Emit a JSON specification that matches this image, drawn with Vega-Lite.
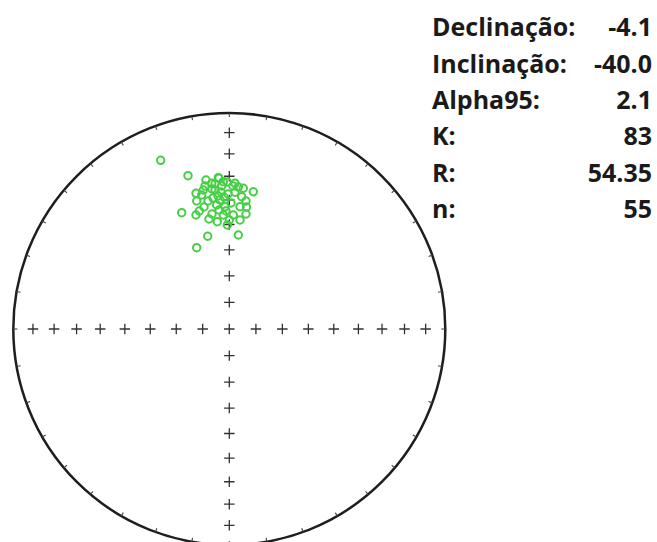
{
  "$schema": "https://vega.github.io/schema/vega-lite/v6.json",
  "width": 657,
  "height": 542,
  "padding": 0,
  "autosize": {"type": "none"},
  "background": "white",
  "usermeta": {"embedOptions": {"actions": false}},
  "config": {"view": {"stroke": null}},
  "datasets": {
    "net": [{"x": 0, "y": 0}],
    "ticks": [
      {"az": 0, "x": 0.0, "y": 1.0}, {"az": 10, "x": 0.17365, "y": 0.98481}, {"az": 20, "x": 0.34202, "y": 0.93969},
      {"az": 30, "x": 0.5, "y": 0.86603}, {"az": 40, "x": 0.64279, "y": 0.76604}, {"az": 50, "x": 0.76604, "y": 0.64279},
      {"az": 60, "x": 0.86603, "y": 0.5}, {"az": 70, "x": 0.93969, "y": 0.34202}, {"az": 80, "x": 0.98481, "y": 0.17365},
      {"az": 90, "x": 1.0, "y": 0.0}, {"az": 100, "x": 0.98481, "y": -0.17365}, {"az": 110, "x": 0.93969, "y": -0.34202},
      {"az": 120, "x": 0.86603, "y": -0.5}, {"az": 130, "x": 0.76604, "y": -0.64279}, {"az": 140, "x": 0.64279, "y": -0.76604},
      {"az": 150, "x": 0.5, "y": -0.86603}, {"az": 160, "x": 0.34202, "y": -0.93969}, {"az": 170, "x": 0.17365, "y": -0.98481},
      {"az": 180, "x": 0.0, "y": -1.0}, {"az": 190, "x": -0.17365, "y": -0.98481}, {"az": 200, "x": -0.34202, "y": -0.93969},
      {"az": 210, "x": -0.5, "y": -0.86603}, {"az": 220, "x": -0.64279, "y": -0.76604}, {"az": 230, "x": -0.76604, "y": -0.64279},
      {"az": 240, "x": -0.86603, "y": -0.5}, {"az": 250, "x": -0.93969, "y": -0.34202}, {"az": 260, "x": -0.98481, "y": -0.17365},
      {"az": 270, "x": -1.0, "y": 0.0}, {"az": 280, "x": -0.98481, "y": 0.17365}, {"az": 290, "x": -0.93969, "y": 0.34202},
      {"az": 300, "x": -0.86603, "y": 0.5}, {"az": 310, "x": -0.76604, "y": 0.64279}, {"az": 320, "x": -0.64279, "y": 0.76604},
      {"az": 330, "x": -0.5, "y": 0.86603}, {"az": 340, "x": -0.34202, "y": 0.93969}, {"az": 350, "x": -0.17365, "y": 0.98481}
    ],
    "crosses": [
      {"x": 0, "y": 0},
      {"x": 0.12326, "y": 0}, {"x": 0.24558, "y": 0}, {"x": 0.36603, "y": 0}, {"x": 0.48369, "y": 0},
      {"x": 0.59767, "y": 0}, {"x": 0.70711, "y": 0}, {"x": 0.81116, "y": 0}, {"x": 0.90904, "y": 0},
      {"x": -0.12326, "y": 0}, {"x": -0.24558, "y": 0}, {"x": -0.36603, "y": 0}, {"x": -0.48369, "y": 0},
      {"x": -0.59767, "y": 0}, {"x": -0.70711, "y": 0}, {"x": -0.81116, "y": 0}, {"x": -0.90904, "y": 0},
      {"x": 0, "y": 0.12326}, {"x": 0, "y": 0.24558}, {"x": 0, "y": 0.36603}, {"x": 0, "y": 0.48369},
      {"x": 0, "y": 0.59767}, {"x": 0, "y": 0.70711}, {"x": 0, "y": 0.81116}, {"x": 0, "y": 0.90904},
      {"x": 0, "y": -0.12326}, {"x": 0, "y": -0.24558}, {"x": 0, "y": -0.36603}, {"x": 0, "y": -0.48369},
      {"x": 0, "y": -0.59767}, {"x": 0, "y": -0.70711}, {"x": 0, "y": -0.81116}, {"x": 0, "y": -0.90904}
    ],
    "dirs": [
      {"x": -0.3176, "y": 0.7810}, {"x": -0.1912, "y": 0.7097}, {"x": -0.1125, "y": 0.6620}, {"x": -0.0815, "y": 0.6745},
      {"x": -0.0477, "y": 0.6977}, {"x": -0.1079, "y": 0.6898}, {"x": -0.0509, "y": 0.7005}, {"x": -0.0278, "y": 0.6819},
      {"x": -0.0352, "y": 0.6620}, {"x": -0.0093, "y": 0.6806}, {"x": 0.0264, "y": 0.6745}, {"x": 0.0417, "y": 0.6574},
      {"x": 0.0648, "y": 0.6514}, {"x": 0.1111, "y": 0.6356}, {"x": -0.1542, "y": 0.6282}, {"x": -0.1278, "y": 0.6204},
      {"x": -0.1204, "y": 0.6435}, {"x": -0.1509, "y": 0.5926}, {"x": -0.0801, "y": 0.6481}, {"x": -0.0662, "y": 0.6435},
      {"x": -0.0431, "y": 0.5972}, {"x": -0.0523, "y": 0.6157}, {"x": -0.0245, "y": 0.6111}, {"x": -0.0583, "y": 0.5741},
      {"x": -0.0199, "y": 0.5662}, {"x": 0.0264, "y": 0.6329}, {"x": 0.0574, "y": 0.6125}, {"x": 0.0773, "y": 0.5926},
      {"x": 0.0495, "y": 0.5662}, {"x": 0.0079, "y": 0.5833}, {"x": 0.0796, "y": 0.5648}, {"x": -0.2204, "y": 0.5384},
      {"x": -0.1542, "y": 0.5278}, {"x": -0.1389, "y": 0.5463}, {"x": -0.1171, "y": 0.5648}, {"x": -0.0940, "y": 0.5093},
      {"x": -0.0801, "y": 0.5324}, {"x": -0.0556, "y": 0.4968}, {"x": -0.0278, "y": 0.5278}, {"x": 0.0, "y": 0.5046},
      {"x": 0.0185, "y": 0.5278}, {"x": 0.0495, "y": 0.5046}, {"x": 0.0773, "y": 0.5324}, {"x": -0.0093, "y": 0.4815},
      {"x": -0.1000, "y": 0.4292}, {"x": 0.0417, "y": 0.4352}, {"x": -0.1509, "y": 0.3764}, {"x": -0.0755, "y": 0.6065},
      {"x": -0.0384, "y": 0.6343}, {"x": -0.0060, "y": 0.6250}, {"x": -0.0986, "y": 0.5926}, {"x": -0.0153, "y": 0.5463},
      {"x": -0.0477, "y": 0.5509}, {"x": 0.0171, "y": 0.6620}, {"x": -0.0662, "y": 0.6713}
    ],
    "stats": [
      {"row": 1, "label": "Declinação:", "value": "-4.1"},
      {"row": 2, "label": "Inclinação:", "value": "-40.0"},
      {"row": 3, "label": "Alpha95:", "value": "2.1"},
      {"row": 4, "label": "K:", "value": "83"},
      {"row": 5, "label": "R:", "value": "54.35"},
      {"row": 6, "label": "n:", "value": "55"}
    ]
  },
  "layer": [
    {
      "layer": [
        {
          "data": {"name": "net"},
          "mark": {"type": "point", "shape": "circle", "filled": false, "size": 186624, "stroke": "#1e1e1e", "strokeWidth": 2.5, "opacity": 1},
          "encoding": {
            "x": {"field": "x", "type": "quantitative", "axis": null, "scale": {"domain": [-1.0616, 1.9801], "nice": false, "zero": false}},
            "y": {"field": "y", "type": "quantitative", "axis": null, "scale": {"domain": [-0.9861, 1.5231], "nice": false, "zero": false}}
          }
        },
        {
          "data": {"name": "ticks"},
          "mark": {"type": "point", "shape": "M0,0L0,1", "filled": false, "size": 64, "stroke": "#444444", "strokeWidth": 1.1, "opacity": 1},
          "encoding": {
            "x": {"field": "x", "type": "quantitative", "axis": null, "scale": {"domain": [-1.0616, 1.9801], "nice": false, "zero": false}},
            "y": {"field": "y", "type": "quantitative", "axis": null, "scale": {"domain": [-0.9861, 1.5231], "nice": false, "zero": false}},
            "angle": {"field": "az", "type": "quantitative", "scale": null}
          }
        },
        {
          "data": {"name": "crosses"},
          "mark": {"type": "point", "shape": "M-1,0L1,0M0,-1L0,1", "filled": false, "size": 110, "stroke": "#333333", "strokeWidth": 1.3, "opacity": 1},
          "encoding": {
            "x": {"field": "x", "type": "quantitative", "axis": null, "scale": {"domain": [-1.0616, 1.9801], "nice": false, "zero": false}},
            "y": {"field": "y", "type": "quantitative", "axis": null, "scale": {"domain": [-0.9861, 1.5231], "nice": false, "zero": false}}
          }
        },
        {
          "data": {"name": "dirs"},
          "mark": {"type": "point", "shape": "circle", "filled": false, "size": 55, "stroke": "#46cf46", "strokeWidth": 2, "opacity": 1},
          "encoding": {
            "x": {"field": "x", "type": "quantitative", "axis": null, "scale": {"domain": [-1.0616, 1.9801], "nice": false, "zero": false}},
            "y": {"field": "y", "type": "quantitative", "axis": null, "scale": {"domain": [-0.9861, 1.5231], "nice": false, "zero": false}}
          }
        }
      ]
    },
    {
      "data": {"name": "stats"},
      "layer": [
        {
          "mark": {"type": "text", "align": "left", "baseline": "alphabetic", "font": "Open Sans", "fontWeight": "bold", "fontSize": 25, "color": "#1a1a1a"},
          "encoding": {
            "x": {"datum": 0.9384, "type": "quantitative", "axis": null, "scale": {"domain": [-1.0616, 1.9801], "nice": false, "zero": false}},
            "y": {"field": "row", "type": "quantitative", "axis": null, "scale": {"domain": [0, 14.93], "reverse": true, "nice": false, "zero": false}},
            "text": {"field": "label"}
          }
        },
        {
          "mark": {"type": "text", "align": "right", "baseline": "alphabetic", "font": "Open Sans", "fontWeight": "bold", "fontSize": 25, "color": "#1a1a1a"},
          "encoding": {
            "x": {"datum": 1.9569, "type": "quantitative", "axis": null, "scale": {"domain": [-1.0616, 1.9801], "nice": false, "zero": false}},
            "y": {"field": "row", "type": "quantitative", "axis": null, "scale": {"domain": [0, 14.93], "reverse": true, "nice": false, "zero": false}},
            "text": {"field": "value"}
          }
        }
      ]
    }
  ],
  "resolve": {"scale": {"y": "independent"}}
}
